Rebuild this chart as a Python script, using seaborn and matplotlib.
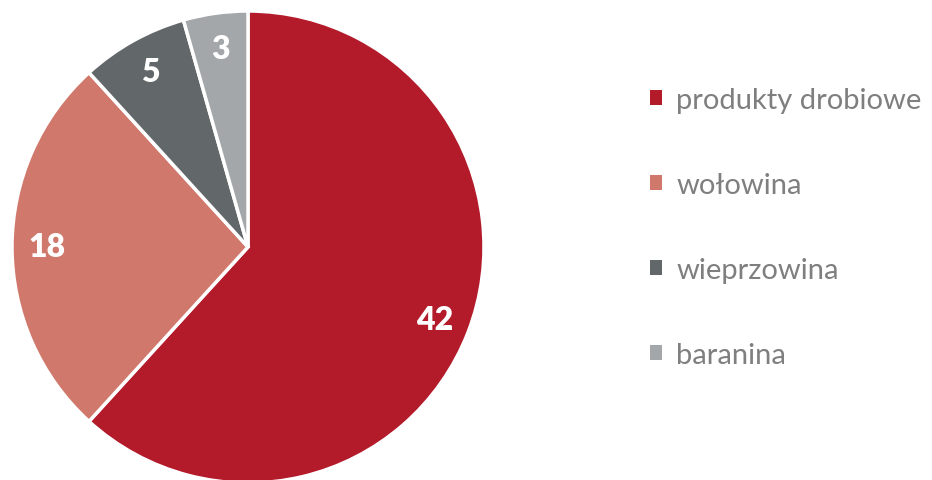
import matplotlib
matplotlib.use("Agg")
import matplotlib.pyplot as plt
import seaborn as sns
from matplotlib.patches import Patch

categories = ["produkty drobiowe", "wołowina", "wieprzowina", "baranina"]
values = [42, 18, 5, 3]
colors = ["#B31A2A", "#D0786B", "#62676A", "#A4A7AA"]

sns.set_theme(style="white")
plt.rcParams['font.family'] = ['Lato', 'DejaVu Sans']

fig = plt.figure(figsize=(9.32, 4.81), dpi=100)
R = 236
cx, cy = 248, 248
W, H = 932, 481
ax = fig.add_axes([(cx - R) / W, (H - cy - R) / H, 2 * R / W, 2 * R / H])

wedges, texts = ax.pie(values, colors=colors, startangle=90, counterclock=False,
                       labels=[str(v) for v in values], labeldistance=0.85,
                       wedgeprops=dict(edgecolor="white", linewidth=2.5),
                       textprops=dict(color="white", fontsize=23, fontweight="heavy"))
for t in texts:
    t.set_ha("center")
    t.set_va("center")
ax.set_xlim(-1, 1)
ax.set_ylim(-1, 1)
ax.set_aspect("equal")
ax.axis("off")

handles = [Patch(facecolor=c, edgecolor="none") for c in colors]
leg = fig.legend(handles, categories, loc="upper left", bbox_to_anchor=(638 / W, 1 - 76 / H),
                 frameon=False, fontsize=21, labelspacing=2.03, handlelength=0.42,
                 handleheight=0.42, handletextpad=0.5, borderaxespad=0)
for t in leg.get_texts():
    t.set_color("#7F7F7F")

fig.savefig("out.png", dpi=100)
